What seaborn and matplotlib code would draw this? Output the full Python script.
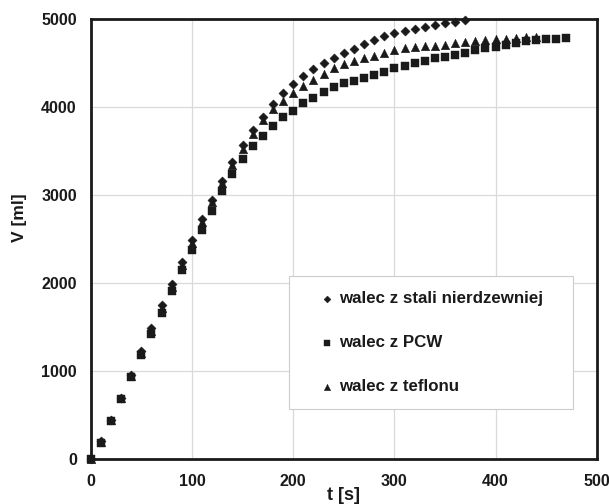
import numpy as np
import pandas as pd
import matplotlib
matplotlib.use("Agg")
import matplotlib.pyplot as plt
import seaborn as sns

# ------------------------------------------------------------------
# data (t in s, V in ml)
# ------------------------------------------------------------------
labels = ["walec z stali nierdzewniej", "walec z PCW", "walec z teflonu"]

t_stal = list(range(0, 371, 10))
v_stal = [0, 210, 450, 700, 955, 1230, 1485, 1750, 1995, 2240,
          2495, 2725, 2950, 3165, 3375, 3565, 3735, 3885, 4040, 4160,
          4260, 4350, 4430, 4500, 4560, 4610, 4665, 4715, 4760, 4805,
          4838, 4865, 4888, 4910, 4932, 4952, 4970, 4990]

t_pcw = list(range(0, 471, 10))
v_pcw = [0, 180, 435, 685, 935, 1178, 1420, 1663, 1909, 2148,
         2380, 2600, 2822, 3042, 3239, 3408, 3553, 3674, 3784, 3883,
         3956, 4042, 4103, 4175, 4228, 4269, 4299, 4333, 4364, 4401,
         4440, 4470, 4497, 4527, 4553, 4570, 4591, 4621, 4648, 4667,
         4686, 4705, 4724, 4750, 4761, 4773, 4780, 4788]

t_teflon = list(range(0, 441, 10))
v_teflon = [0, 200, 445, 695, 945, 1208, 1458, 1712, 1958, 2205,
            2460, 2695, 2920, 3135, 3345, 3530, 3700, 3850, 3975, 4070,
            4160, 4240, 4310, 4375, 4440, 4485, 4523, 4561, 4584, 4610,
            4648, 4667, 4686, 4690, 4697, 4705, 4724, 4735, 4750, 4761,
            4773, 4780, 4788, 4800, 4800]

x_ticks = [0, 100, 200, 300, 400, 500]
y_ticks = [0, 1000, 2000, 3000, 4000, 5000]

series = [
    (t_stal, v_stal, labels[0], "D", 22),
    (t_pcw, v_pcw, labels[1], "s", 34),
    (t_teflon, v_teflon, labels[2], "^", 38),
]

sns.set_theme(style="whitegrid")
plt.rcParams["font.family"] = ["Liberation Sans", "DejaVu Sans"]
plt.rcParams["font.weight"] = "bold"

fig = plt.figure(figsize=(6.09, 5.04), dpi=100)
ax = fig.add_axes([0.149, 0.089, 0.831, 0.873])

for t, v, lab, mk, sz in series:
    df = pd.DataFrame({"t": t, "V": v})
    sns.scatterplot(data=df, x="t", y="V", marker=mk, s=sz, label=lab,
                    color="#1a1a1a", edgecolor="#1a1a1a", linewidth=0.3,
                    ax=ax, clip_on=False, zorder=3)

ax.set_xlim(0, 500)
ax.set_ylim(0, 5000)
ax.set_xticks(x_ticks)
ax.set_yticks(y_ticks)
ax.grid(True, color="#d9d9d9", linewidth=0.9)
for sp in ax.spines.values():
    sp.set_color("#1a1a1a")
    sp.set_linewidth(2)
ax.tick_params(length=0, labelsize=11.5, colors="#1a1a1a")
ax.tick_params(axis="x", pad=11)
ax.tick_params(axis="y", pad=10)
for lab in ax.get_xticklabels() + ax.get_yticklabels():
    lab.set_fontweight("bold")

ax.set_xlabel("t [s]", fontsize=13, fontweight="bold", color="#1a1a1a", labelpad=-2)
ax.set_ylabel("V [ml]", fontsize=12.5, fontweight="bold", color="#1a1a1a", labelpad=10)
ax.yaxis.label.set_y(0.548)

leg = ax.legend(loc="lower left", bbox_to_anchor=(0.391, 0.114, 0.561, 0.3),
                mode="expand", frameon=True, fancybox=False, fontsize=12.2,
                markerscale=0.75, labelspacing=1.72, borderpad=0.87,
                handlelength=2.8, handletextpad=-0.7, borderaxespad=0)
leg.get_frame().set_edgecolor("#cccccc")
leg.get_frame().set_linewidth(0.8)
leg.get_frame().set_alpha(1)
for txt in leg.get_texts():
    txt.set_fontweight("bold")
    txt.set_color("#1a1a1a")

fig.savefig("out.png", dpi=100)
plt.close(fig)
